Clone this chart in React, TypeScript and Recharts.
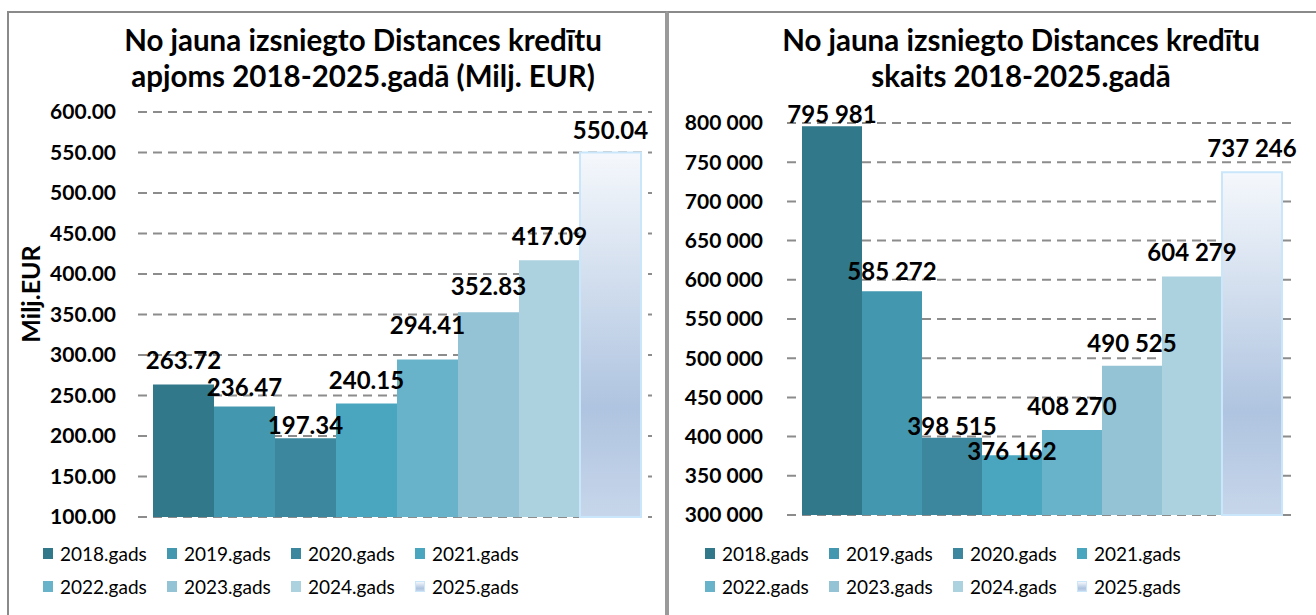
import { BarChart, Bar, XAxis, YAxis, CartesianGrid, LabelList, Legend } from "recharts"

const years = ["2018.gads", "2019.gads", "2020.gads", "2021.gads", "2022.gads", "2023.gads", "2024.gads", "2025.gads"]
const amountValues = [263.72, 236.47, 197.34, 240.15, 294.41, 352.83, 417.09, 550.04]
const countValues = [795981, 585272, 398515, 376162, 408270, 490525, 604279, 737246]
const amountTicks = [100, 150, 200, 250, 300, 350, 400, 450, 500, 550, 600]
const countTicks = [300000, 350000, 400000, 450000, 500000, 550000, 600000, 650000, 700000, 750000, 800000]

// label gaps above bars, as Excel placed them to avoid collisions
const amountLabelOffsets = [15, 10, 4, 14, 26, 17, 15, 13]
const countLabelOffsets = [3, 11, 3, -5, 15, 14, 15, 15]

const COLORS = ["#31788A", "#4397AF", "#3C879D", "#4AA6BF", "#68B3CA", "#93C3D4", "#ADD2DF", "url(#grad2025)"]
const FONT = "Lato, 'Open Sans', sans-serif"
const LEGEND_H = 57

const spaced = (v: number) => Math.round(v).toString().replace(/\B(?=(\d{3})+(?!\d))/g, " ")

function makeRow(values: number[]) {
  const row: Record<string, number | string> = { name: "all" }
  years.forEach((y, i) => (row[y] = values[i]))
  return [row]
}

function LegendBox() {
  return (
    <div style={{ display: "grid", gridTemplateColumns: "repeat(4, 124px)", rowGap: 9, height: LEGEND_H, fontFamily: FONT, fontSize: 19 }}>
      {years.map((y, i) => (
        <div key={y} style={{ display: "flex", alignItems: "center", height: 24 }}>
          <span
            style={{
              width: 10,
              height: 11,
              marginRight: 7,
              background: i === 7 ? "linear-gradient(#F4F7FB, #AFC4E0 70%, #C6D5EA)" : COLORS[i],
              border: i === 7 ? "1px solid #C9E6FA" : "none",
              boxSizing: "border-box",
            }}
          />
          <span style={{ color: "#000" }}>{y}</span>
        </div>
      ))}
    </div>
  )
}

type PanelProps = {
  values: number[]
  ticks: number[]
  labelOffsets: number[]
  fmtTick: (v: number) => string
  fmtLabel: (v: number) => string
  width: number
  margin: { top: number; right: number; bottom: number; left: number }
  axisWidth: number
  tickMargin: number
  legendLeft: number
}

function Panel({ values, ticks, labelOffsets, fmtTick, fmtLabel, width, margin, axisWidth, tickMargin, legendLeft }: PanelProps) {
  return (
    <BarChart width={width} height={615} data={makeRow(values)} margin={margin} barGap={0} barCategoryGap={15}>
      <defs>
        <linearGradient id="grad2025" x1="0" y1="0" x2="0" y2="1">
          <stop offset="0%" stopColor="#F5F8FC" />
          <stop offset="70%" stopColor="#AFC4E0" />
          <stop offset="100%" stopColor="#C7D6EA" />
        </linearGradient>
      </defs>
      <CartesianGrid vertical={false} stroke="#8C8C8C" strokeWidth={2} strokeDasharray="9 6" />
      <XAxis dataKey="name" hide />
      <YAxis
        width={axisWidth}
        domain={[ticks[0], ticks[ticks.length - 1]]}
        ticks={ticks}
        interval={0}
        axisLine={false}
        tickLine={false}
        tickSize={0}
        tickMargin={tickMargin}
        tickFormatter={fmtTick}
        tick={{ fill: "#000", fontFamily: FONT, fontWeight: 700, fontSize: 21 }}
      />
      {years.map((y, i) => (
        <Bar
          key={y}
          dataKey={y}
          fill={COLORS[i]}
          stroke={i === 7 ? "#C9E6FA" : "none"}
          strokeWidth={i === 7 ? 2 : 0}
          isAnimationActive={false}
        >
          <LabelList
            dataKey={y}
            position="top"
            offset={labelOffsets[i]}
            formatter={(v: number) => fmtLabel(v)}
            style={{ fill: "#000", fontFamily: FONT, fontWeight: 700, fontSize: 24 }}
          />
        </Bar>
      ))}
      <Legend content={() => <LegendBox />} wrapperStyle={{ left: legendLeft, top: 541, width: 520, height: LEGEND_H }} />
    </BarChart>
  )
}

const titleStyle: React.CSSProperties = {
  position: "absolute",
  top: 22,
  textAlign: "center",
  fontFamily: FONT,
  fontWeight: 700,
  fontSize: 29.5,
  lineHeight: "36px",
  color: "#000",
  whiteSpace: "nowrap",
}

export default function App() {
  return (
    <div style={{ position: "absolute", left: 0, top: 0, width: 1316, height: 615, background: "#fff", overflow: "hidden" }}>
      <div style={{ position: "absolute", left: 7, top: 11, width: 656, height: 620, borderLeft: "2px solid #8A8A8A", borderTop: "2px solid #8A8A8A", borderRight: "2px solid #9A9A9A" }} />
      <div style={{ position: "absolute", left: 667, top: 11, width: 660, height: 620, borderLeft: "2px solid #9A9A9A", borderTop: "2px solid #8A8A8A" }} />

      <div style={{ position: "absolute", left: 0, top: 0 }}>
        <Panel
          values={amountValues}
          ticks={amountTicks}
          labelOffsets={amountLabelOffsets}
          fmtTick={(v) => v.toFixed(2)}
          fmtLabel={(v) => v.toFixed(2)}
          width={660}
          margin={{ top: 112, right: 8, bottom: 98 - LEGEND_H, left: 20 }}
          axisWidth={118}
          tickMargin={22}
          legendLeft={43}
        />
      </div>
      <div style={{ position: "absolute", left: 660, top: 0 }}>
        <Panel
          values={countValues}
          ticks={countTicks}
          labelOffsets={countLabelOffsets}
          fmtTick={spaced}
          fmtLabel={spaced}
          width={656}
          margin={{ top: 123, right: 19, bottom: 100 - LEGEND_H, left: 20 }}
          axisWidth={107}
          tickMargin={24}
          legendLeft={45}
        />
      </div>

      <div style={{ ...titleStyle, left: 63, width: 600 }}>
        No jauna izsniegto Distances kredītu
        <br />
        apjoms 2018-2025.gadā (Milj. EUR)
      </div>
      <div style={{ ...titleStyle, left: 721, width: 600 }}>
        No jauna izsniegto Distances kredītu
        <br />
        skaits 2018-2025.gadā
      </div>
      <div
        style={{
          position: "absolute",
          left: 30,
          top: 294,
          transform: "translate(-50%, -50%) rotate(-90deg)",
          fontFamily: FONT,
          fontWeight: 700,
          fontSize: 25,
          whiteSpace: "nowrap",
        }}
      >
        Milj.EUR
      </div>
    </div>
  )
}
